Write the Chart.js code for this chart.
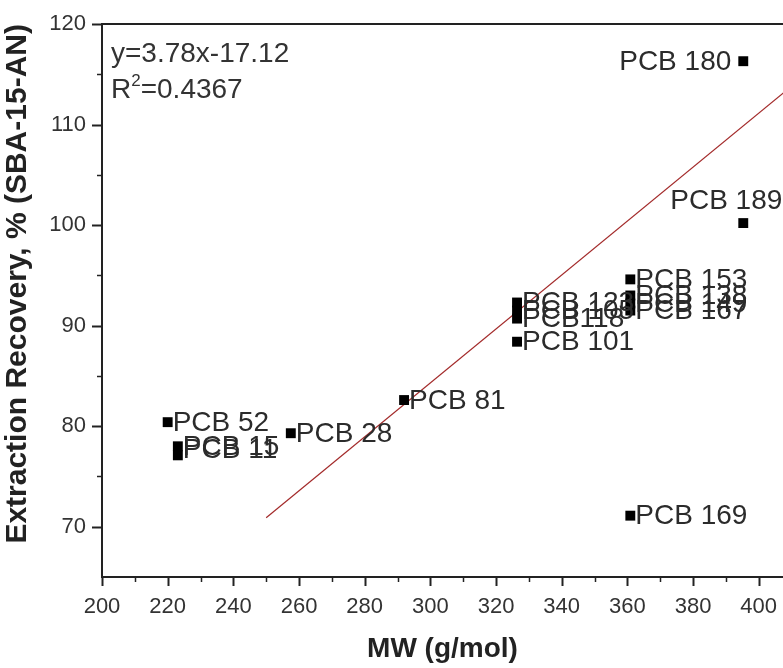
<!DOCTYPE html>
<html>
<head>
<meta charset="utf-8">
<script src="https://cdn.jsdelivr.net/npm/chart.js@4/dist/chart.umd.min.js"></script>
<style>
  html, body { margin: 0; padding: 0; background: #ffffff; }
  #wrap { width: 783px; height: 668px; position: relative; }
</style>
</head>
<body>
<div id="wrap"><canvas id="c" width="783" height="668"></canvas></div>
<script>
// ---- data ----
const pcbNames = ['PCB 15', 'PCB 11', 'PCB 52', 'PCB 28', 'PCB 81', 'PCB 101', 'PCB118', 'PCB 105', 'PCB 123',
                  'PCB 169', 'PCB 167', 'PCB 149', 'PCB 138', 'PCB 153', 'PCB 189', 'PCB 180'];
const molWeight = [223.1, 223.1, 220.0, 257.5, 292.0, 326.4, 326.4, 326.4, 326.4,
                   360.9, 360.9, 360.9, 360.9, 360.9, 395.3, 395.3];
const recovery  = [78.0, 77.1, 80.4, 79.3, 82.6, 88.4, 90.7, 91.5, 92.3,
                   71.1, 91.5, 92.2, 93.0, 94.6, 100.2, 116.3];
// linear fit line end points (as drawn)
const fitX = [250, 410];
const fitY = [70.9, 113.8];
const equationText = 'y=3.78x-17.12';
const r2Text = '0.4367';
const xTitle = 'MW (g/mol)';
const yTitle = 'Extraction Recovery, % (SBA-15-AN)';

// ---- styling / layout (not data) ----
const FONT = "'Liberation Sans', Arial, sans-serif";
const labelOffsets = {           // pixel offsets of the point labels
  'PCB 180': { dx: -12, dy: 0, align: 'right' },
  'PCB 189': { dx: -73, dy: -23, align: 'left' },
  'PCB 11':  { dx: 5, dy: -6, align: 'left' }
};

const points = pcbNames.map((n, i) => ({ x: molWeight[i], y: recovery[i] }));
const fitLine = fitX.map((x, i) => ({ x: x, y: fitY[i] }));

const frameTicks = {
  id: 'frameTicks',
  afterDraw(chart) {
    const { ctx, chartArea: a, scales } = chart;
    const xs = scales.x, ys = scales.y;
    ctx.save();
    ctx.strokeStyle = '#222';
    ctx.lineWidth = 2;
    ctx.beginPath();
    ctx.moveTo(a.left - 1, a.top);
    ctx.lineTo(a.right, a.top);
    ctx.stroke();
    for (let v = xs.min; v <= xs.max + 1e-9; v += 10) {
      const px = Math.round(xs.getPixelForValue(v)) + 0.5;
      const major = Math.abs(v % 20) < 1e-9;
      ctx.lineWidth = major ? 2 : 1.5;
      ctx.beginPath();
      ctx.moveTo(px, a.bottom);
      ctx.lineTo(px, a.bottom + (major ? 9 : 5));
      ctx.stroke();
    }
    for (let v = 70; v <= ys.max + 1e-9; v += 5) {
      const py = Math.round(ys.getPixelForValue(v)) + 0.5;
      const major = Math.abs(v % 10) < 1e-9;
      ctx.lineWidth = major ? 2 : 1.5;
      ctx.beginPath();
      ctx.moveTo(a.left - (major ? 10 : 5), py);
      ctx.lineTo(a.left, py);
      ctx.stroke();
    }
    ctx.restore();
  }
};

const pointLabels = {
  id: 'pointLabels',
  afterDatasetsDraw(chart) {
    const { ctx } = chart;
    const meta = chart.getDatasetMeta(0);
    ctx.save();
    ctx.font = '28px ' + FONT;
    ctx.fillStyle = '#2b2b2b';
    ctx.textBaseline = 'middle';
    meta.data.forEach((el, i) => {
      const name = pcbNames[i];
      const o = labelOffsets[name] || { dx: 5, dy: 0, align: 'left' };
      ctx.textAlign = o.align;
      ctx.fillText(name, el.x + o.dx, el.y + o.dy + 1);
    });
    const a = chart.chartArea;
    const fs = 28;
    ctx.font = fs + 'px ' + FONT;
    ctx.fillStyle = '#333';
    ctx.textAlign = 'left';
    ctx.textBaseline = 'alphabetic';
    ctx.fillText(equationText, a.left + 9, 62);
    ctx.fillText('R', a.left + 9, 98);
    const rw = ctx.measureText('R').width;
    ctx.font = '17px ' + FONT;
    ctx.fillText('2', a.left + 9 + rw, 86);
    const sw = ctx.measureText('2').width;
    ctx.font = fs + 'px ' + FONT;
    ctx.fillText('=' + r2Text, a.left + 9 + rw + sw, 98);
    ctx.restore();
  }
};

new Chart(document.getElementById('c'), {
  type: 'scatter',
  data: {
    datasets: [
      {
        label: 'Recovery',
        data: points,
        pointStyle: 'rect',
        pointRadius: 7,
        pointHoverRadius: 7,
        backgroundColor: '#000',
        borderColor: '#000',
        borderWidth: 0,
        order: 1
      },
      {
        type: 'line',
        label: 'Linear fit',
        data: fitLine,
        borderColor: '#a32a2a',
        borderWidth: 1.2,
        pointRadius: 0,
        fill: false,
        clip: 0,
        order: 2
      }
    ]
  },
  plugins: [frameTicks, pointLabels],
  options: {
    responsive: false,
    animation: false,
    devicePixelRatio: 1,
    layout: { autoPadding: false, padding: { top: 24, right: 0, left: 0, bottom: 0 } },
    plugins: { legend: { display: false }, tooltip: { enabled: false } },
    scales: {
      x: {
        type: 'linear',
        min: 200,
        max: 407.4,
        grid: { display: false, drawTicks: true, tickLength: 17 },
        border: { display: true, color: '#222', width: 2 },
        ticks: { stepSize: 20, includeBounds: false, padding: 0, color: '#333',
                 font: { family: FONT, size: 22 }, maxRotation: 0 },
        title: { display: true, text: xTitle, color: '#222',
                 font: { family: FONT, size: 28, weight: 'bold', lineHeight: 1.2 },
                 padding: { top: 0, bottom: 2 } },
        afterFit(s) { s.height = 668 - 577; s.paddingRight = 0; s.paddingLeft = 0; }
      },
      y: {
        type: 'linear',
        min: 65,
        max: 120,
        grid: { display: false, drawTicks: true, tickLength: 16 },
        border: { display: true, color: '#222', width: 2 },
        ticks: { stepSize: 10, includeBounds: false, padding: 0, color: '#333',
                 font: { family: FONT, size: 22 } },
        title: { display: true, text: '    ' + yTitle, color: '#222',
                 font: { family: FONT, size: 30, weight: 'bold', lineHeight: 1.2 },
                 padding: { top: 0, bottom: 0 } },
        afterFit(s) { s.width = 102; s.paddingTop = 0; s.paddingBottom = 0; }
      }
    }
  }
});
</script>
</body>
</html>
